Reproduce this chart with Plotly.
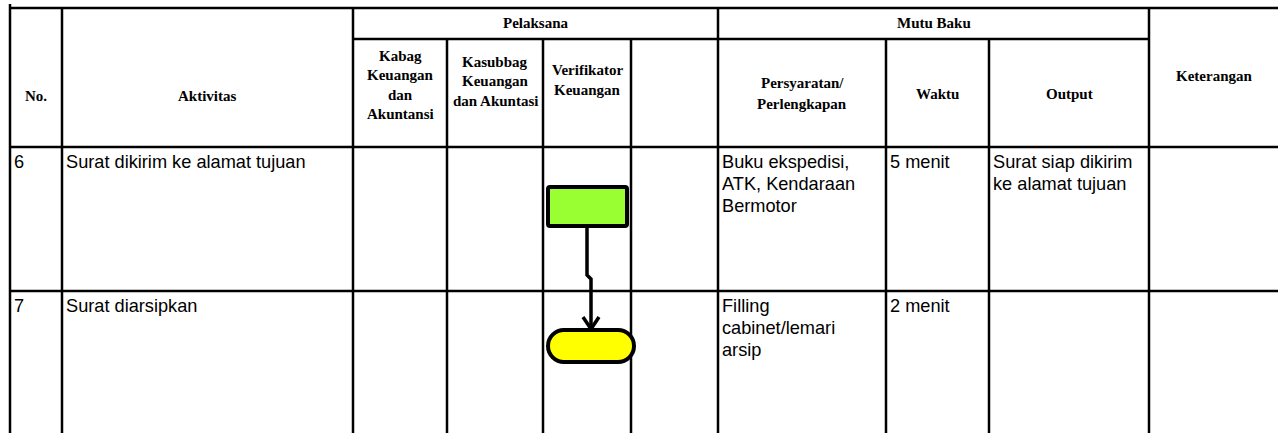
import plotly.graph_objects as go

# ---------------- data ----------------
step_no = ["6", "7"]
activities = ["Surat dikirim ke alamat tujuan", "Surat diarsipkan"]
requirements = [["Buku ekspedisi,", "ATK, Kendaraan", "Bermotor"],
                ["Filling", "cabinet/lemari", "arsip"]]
durations = ["5 menit", "2 menit"]
outputs = [["Surat siap dikirim", "ke alamat tujuan"], []]
remarks = ["", ""]
executors = ["Kabag<br>Keuangan<br>dan<br>Akuntansi",
             "Kasubbag<br>Keuangan<br>dan Akuntasi",
             "Verifikator<br>Keuangan",
             ""]
step_executor = [2, 2]                 # index into executors
step_symbol = ["process", "terminator"]
step_fill = ["#99FF33", "#FFFF00"]

# ---------------- layout geometry ----------------
W, H = 1278, 433
col_edges = [10, 62, 353, 447, 543, 631, 718, 886, 989, 1149, 1278]
top, group_line, head_bottom = 8, 39, 147
row_edges = [147, 291, 435]
LW = 2.5

shapes = []
def line(x0, y0, x1, y1, w=LW):
    shapes.append(dict(type="line", x0=x0, y0=y0, x1=x1, y1=y1,
                       line=dict(color="black", width=w), layer="above"))

# horizontal lines
line(col_edges[0], top, W, top)
line(col_edges[2], group_line, col_edges[9], group_line)
for y in row_edges[:-1]:
    line(col_edges[0], y, W, y)
# vertical lines
for i, x in enumerate(col_edges[:-1]):
    y0 = group_line if i in (3, 4, 5, 7, 8) else top
    if i == 0:
        y0 = 4
    line(x, y0, x, H + 2)

ann = []
HF = dict(family="Times New Roman, Liberation Serif, serif", size=15, color="black", weight="bold")
BF = dict(family="Arial, Liberation Sans, sans-serif", size=18.2, color="black")

def htext(x, y, lines, spacing):
    n = len(lines)
    for k, t in enumerate(lines):
        ann.append(dict(x=x, y=y + (k - (n - 1) / 2) * spacing, text=t, showarrow=False,
                        xanchor="center", yanchor="middle", font=HF))

mid = lambda i: (col_edges[i] + col_edges[i + 1]) / 2
htext(mid(0), 96, ["No."], 20)
htext(mid(1), 96, ["Aktivitas"], 20)
htext((col_edges[2] + col_edges[6]) / 2, 23, ["Pelaksana"], 20)
htext((col_edges[6] + col_edges[9]) / 2, 23, ["Mutu Baku"], 20)
htext(mid(9), 76, ["Keterangan"], 20)
exec_centers = [85, 81, 80, 93]
for j, e in enumerate(executors):
    if e:
        htext(mid(2 + j), exec_centers[j], e.split("<br>"), 19.5)
htext(mid(6), 93, ["Persyaratan/", "Perlengkapan"], 21)
htext(mid(7), 94, ["Waktu"], 20)
htext(mid(8), 94, ["Output"], 20)

def btext(ci, r, lines):
    for k, t in enumerate(lines):
        ann.append(dict(x=col_edges[ci] + 2, y=row_edges[r] + 15 + 22 * k, text=t,
                        showarrow=False, xanchor="left", yanchor="middle", font=BF))

for r in range(len(step_no)):
    btext(0, r, [step_no[r]])
    btext(1, r, [activities[r]])
    btext(6, r, requirements[r])
    btext(7, r, [durations[r]])
    btext(8, r, outputs[r])
    if remarks[r]:
        btext(9, r, [remarks[r]])

# flow symbols
boxes = []
for r in range(len(step_no)):
    c = 2 + step_executor[r]          # column index of executor
    xl, xr = col_edges[c], col_edges[c + 1]
    yt = row_edges[r]
    if step_symbol[r] == "process":
        x0, x1, y0, y1 = xl + 5, xr - 4, yt + 40, yt + 79
        rr = 2
    else:
        x0, x1, y0, y1 = xl + 5, xr + 3, yt + 39, yt + 71
        rr = (y1 - y0) / 2
    k = 0.55 * rr
    path = (f"M{x0+rr},{y0} L{x1-rr},{y0} C{x1-rr+k},{y0} {x1},{y0+rr-k} {x1},{y0+rr} "
            f"L{x1},{y1-rr} C{x1},{y1-rr+k} {x1-rr+k},{y1} {x1-rr},{y1} "
            f"L{x0+rr},{y1} C{x0+rr-k},{y1} {x0},{y1-rr+k} {x0},{y1-rr} "
            f"L{x0},{y0+rr} C{x0},{y0+rr-k} {x0+rr-k},{y0} {x0+rr},{y0} Z")
    shapes.append(dict(type="path", path=path, fillcolor=step_fill[r],
                       line=dict(color="black", width=4), layer="above"))
    boxes.append((x0, x1, y0, y1))

# connector between consecutive steps
for r in range(len(boxes) - 1):
    a, b = boxes[r], boxes[r + 1]
    xa = (a[0] + a[1]) / 2 - 0.5
    xb = xa + 4
    yj = row_edges[r + 1] - 16
    shapes.append(dict(type="path",
                       path=f"M{xa},{a[3]} L{xa},{yj} L{xb},{yj+4} L{xb},{b[2]-1}",
                       line=dict(color="black", width=3.5), layer="above"))
    shapes.append(dict(type="path",
                       path=f"M{xb-8},{b[2]-13} L{xb},{b[2]-1} L{xb+8},{b[2]-13}",
                       line=dict(color="black", width=3.5), layer="above"))

fig = go.Figure()
fig.update_layout(
    width=W, height=H, margin=dict(l=0, r=0, t=0, b=0),
    paper_bgcolor="white", plot_bgcolor="white",
    xaxis=dict(range=[0, W], visible=False, fixedrange=True),
    yaxis=dict(range=[H, 0], visible=False, fixedrange=True),
    shapes=shapes, annotations=ann, showlegend=False,
)
fig.write_html("out.html", config=dict(displayModeBar=False))

# remove the browser's default page margin so the figure sits at (0,0)
with open("out.html", encoding="utf-8") as f:
    html = f.read()
html = html.replace("<head>", "<head><style>html,body{margin:0;padding:0;overflow:hidden;}</style>", 1)
with open("out.html", "w", encoding="utf-8") as f:
    f.write(html)
